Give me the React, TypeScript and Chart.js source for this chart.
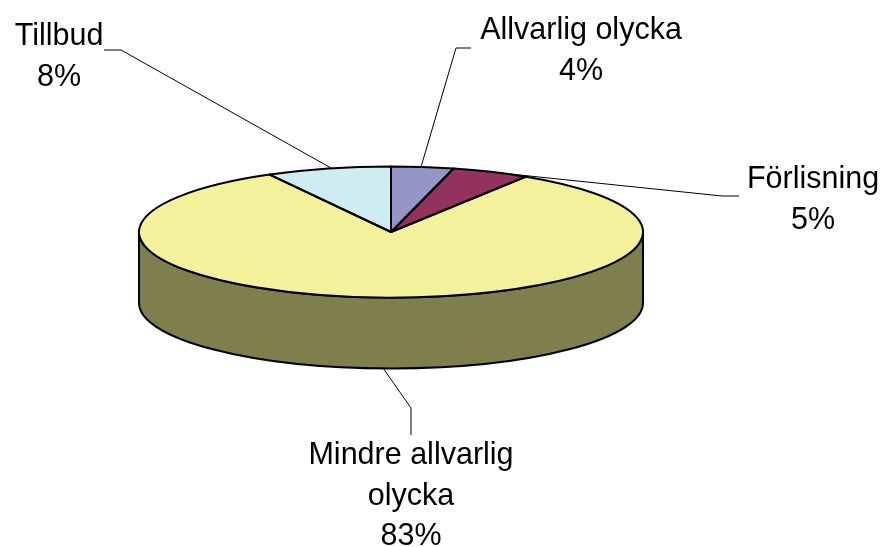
import React, { useEffect, useRef } from "react";
import { Chart, registerables } from "chart.js";

Chart.register(...registerables);

const categories = ["Allvarlig olycka", "Förlisning", "Mindre allvarlig olycka", "Tillbud"];
const shares = [4, 5, 83, 8];
const topColors = ["#9595C6", "#93325F", "#F4F19C", "#CFECF0"];
const wallColors = ["#4A4A63", "#4A1930", "#7F7F4D", "#68767A"];

// Layout of the outside labels, kept apart from the data.
const labelLines = [["Allvarlig olycka"], ["Förlisning"], ["Mindre allvarlig", "olycka"], ["Tillbud"]];
const labelCenters = [[581, 39], [813, 188], [411, 464], [59, 45]];
const leaderLines = [
  [[471, 48], [456, 48], [421, 167]],
  [[739, 196], [722, 196], [510, 174]],
  [[383, 368], [411, 408], [411, 435]],
  [[104, 50], [121, 50], [331, 168]],
];

const TILT = 65.5 / 252;
const DEPTH = 71;
const TOP_Y = 232;
const FONT = '30.5px "Liberation Sans", Arial, sans-serif';
const LINE_HEIGHT = 40.5;

function ellipseArc(ctx: any, cx: number, cy: number, r: number, a: number, b: number, ccw = false) {
  ctx.save();
  ctx.translate(cx, cy);
  ctx.scale(1, TILT);
  ctx.arc(0, 0, r, a, b, ccw);
  ctx.restore();
}

const pie3d = {
  id: "pie3d",
  beforeDatasetsDraw(chart: any) {
    const ctx = chart.ctx;
    const arcs = chart.getDatasetMeta(0).data;
    // walls, front half only
    arcs.forEach((el: any, i: number) => {
      const a = Math.max(el.startAngle, 0);
      const b = Math.min(el.endAngle, Math.PI);
      if (b <= a) return;
      ctx.beginPath();
      ellipseArc(ctx, el.x, TOP_Y, el.outerRadius, a, b);
      ellipseArc(ctx, el.x, TOP_Y + DEPTH, el.outerRadius, b, a, true);
      ctx.closePath();
      ctx.fillStyle = wallColors[i];
      ctx.fill();
      ctx.strokeStyle = "#000";
      ctx.lineWidth = 2;
      ctx.lineJoin = "round";
      ctx.stroke();
    });
    // flatten the library's own slices into the tilted top face
    const el0 = arcs[0];
    ctx.save();
    ctx.translate(0, TOP_Y);
    ctx.scale(1, TILT);
    ctx.translate(0, -el0.y);
  },
  afterDatasetsDraw(chart: any) {
    const ctx = chart.ctx;
    ctx.restore();
    const arcs = chart.getDatasetMeta(0).data;
    ctx.strokeStyle = "#000";
    ctx.lineWidth = 2;
    ctx.lineJoin = "round";
    arcs.forEach((el: any) => {
      ctx.beginPath();
      ctx.moveTo(el.x, TOP_Y);
      ellipseArc(ctx, el.x, TOP_Y, el.outerRadius, el.startAngle, el.endAngle);
      ctx.closePath();
      ctx.stroke();
    });
    // leaders and labels
    ctx.lineWidth = 1;
    leaderLines.forEach((pts) => {
      ctx.beginPath();
      pts.forEach(([x, y], j) => (j ? ctx.lineTo(x, y) : ctx.moveTo(x, y)));
      ctx.stroke();
    });
    ctx.fillStyle = "#000";
    ctx.font = FONT;
    ctx.textAlign = "center";
    ctx.textBaseline = "alphabetic";
    labelLines.forEach((lines, i) => {
      const [x, y] = labelCenters[i];
      [...lines, `${shares[i]}%`].forEach((t, j) => ctx.fillText(t, x, y + j * LINE_HEIGHT));
    });
  },
};

export default function App() {
  const ref = useRef<HTMLCanvasElement>(null);
  useEffect(() => {
    document.body.style.margin = "0";
    const chart = new Chart(ref.current as HTMLCanvasElement, {
      type: "pie",
      data: {
        labels: categories,
        datasets: [{ data: shares, backgroundColor: topColors, borderWidth: 0, clip: false } as any],
      },
      options: {
        responsive: false,
        animation: false,
        layout: { padding: { left: 139, right: 240, top: 20, bottom: 23 } },
        plugins: { legend: { display: false }, tooltip: { enabled: false }, title: { display: false } },
      },
      plugins: [pie3d],
    } as any);
    return () => chart.destroy();
  }, []);
  return <canvas ref={ref} width={883} height={547} style={{ display: "block" }} />;
}
